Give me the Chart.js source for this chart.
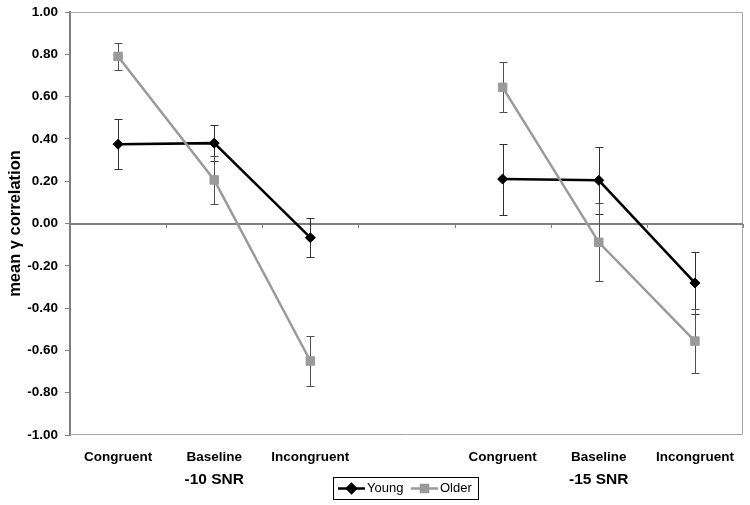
<!DOCTYPE html>
<html>
<head>
<meta charset="utf-8">
<script src="https://cdn.jsdelivr.net/npm/chart.js@4"></script>
<style>
  html, body { margin: 0; padding: 0; background: #fff; }
  #wrap { width: 750px; height: 505px; }
</style>
</head>
<body>
<div id="wrap"><canvas id="chart" width="750" height="505"></canvas></div>
<script>
  // values
  const categories = ['Congruent', 'Baseline', 'Incongruent', '', 'Congruent', 'Baseline', 'Incongruent'];
  const youngMean = [0.375, 0.38, -0.067, null, 0.21, 0.204, -0.281];
  const youngErr  = [0.117, 0.085, 0.092, null, 0.168, 0.158, 0.147];
  const olderMean = [0.79, 0.206, -0.65, null, 0.644, -0.089, -0.556];
  const olderErr  = [0.063, 0.112, 0.118, null, 0.118, 0.185, 0.15];
  const groupLabels = ['-10 SNR', '-15 SNR'];
  const groupAt = [1, 5]; // category index under which the group label sits

  const FONT = 'Liberation Sans, Arial, sans-serif';
  const BLACK = '#000000';
  const GREY = '#9a9a9a';

  // error bars, frame, zero line, group labels, legend
  const extras = {
    id: 'extras',
    beforeDatasetsDraw(chart) {
      const {ctx, chartArea: a, scales: {x, y}} = chart;
      ctx.save();
      // plot frame
      ctx.strokeStyle = '#a6a6a6';
      ctx.lineWidth = 1;
      ctx.beginPath();
      ctx.moveTo(a.left, a.top + 0.5);
      ctx.lineTo(a.right - 0.5, a.top + 0.5);
      ctx.lineTo(a.right - 0.5, a.bottom - 0.5);
      ctx.lineTo(a.left, a.bottom - 0.5);
      ctx.stroke();
      // zero line with category ticks
      const y0 = Math.round(y.getPixelForValue(0));
      ctx.strokeStyle = '#808080';
      ctx.lineWidth = 2;
      ctx.beginPath();
      ctx.moveTo(a.left, y0);
      ctx.lineTo(a.right, y0);
      ctx.stroke();
      ctx.lineWidth = 1;
      const half = (x.getPixelForValue(1) - x.getPixelForValue(0)) / 2;
      ctx.beginPath();
      for (let i = 0; i <= categories.length; i++) {
        const px = Math.round(x.getPixelForValue(0) - half + i * half * 2) + 0.5;
        ctx.moveTo(px, y0);
        ctx.lineTo(px, y0 + 4);
      }
      ctx.stroke();
      // error bars
      const series = [[youngMean, youngErr, '#303030'], [olderMean, olderErr, '#505050']];
      series.forEach(([m, e, col]) => {
        ctx.strokeStyle = col;
        ctx.lineWidth = 1;
        m.forEach((v, i) => {
          if (v === null) return;
          const px = Math.round(x.getPixelForValue(i)) + 0.5;
          const top = Math.round(y.getPixelForValue(v + e[i])) + 0.5;
          const bot = Math.round(y.getPixelForValue(v - e[i])) + 0.5;
          ctx.beginPath();
          ctx.moveTo(px, top); ctx.lineTo(px, bot);
          ctx.moveTo(px - 4, top); ctx.lineTo(px + 4, top);
          ctx.moveTo(px - 4, bot); ctx.lineTo(px + 4, bot);
          ctx.stroke();
        });
      });
      ctx.restore();
    },
    afterDraw(chart) {
      const {ctx, scales: {x}} = chart;
      ctx.save();
      ctx.fillStyle = '#000';
      ctx.font = 'bold 15.5px ' + FONT;
      ctx.textAlign = 'center';
      ctx.textBaseline = 'middle';
      groupLabels.forEach((t, i) => ctx.fillText(t, x.getPixelForValue(groupAt[i]), 480));

      // legend
      const lx = 333, ly = 477, lw = 145, lh = 22;
      ctx.strokeStyle = '#000';
      ctx.lineWidth = 1;
      ctx.strokeRect(lx + 0.5, ly + 0.5, lw, lh);
      const cy = ly + lh / 2 + 0.5;
      const items = [['Young', BLACK, 'rectRot', lx + 5], ['Older', GREY, 'rect', lx + 78]];
      ctx.font = '13px ' + FONT;
      ctx.textAlign = 'left';
      items.forEach(([label, col, shape, sx]) => {
        ctx.strokeStyle = col;
        ctx.fillStyle = col;
        ctx.lineWidth = 2.5;
        ctx.beginPath();
        ctx.moveTo(sx, cy); ctx.lineTo(sx + 27, cy);
        ctx.stroke();
        Chart.helpers.drawPoint(ctx, {pointStyle: shape, radius: shape === 'rect' ? 5 : 4.5, borderWidth: 1}, sx + 13.5, cy);
        ctx.fill();
        ctx.fillStyle = '#000';
        ctx.fillText(label, sx + 29, cy);
      });
      ctx.restore();
    }
  };

  new Chart(document.getElementById('chart'), {
    type: 'line',
    data: {
      labels: categories,
      datasets: [{
        label: 'Young',
        data: youngMean,
        borderColor: BLACK,
        backgroundColor: BLACK,
        borderWidth: 2.5,
        pointStyle: 'rectRot',
        pointRadius: 5,
        pointBorderWidth: 1,
        spanGaps: false,
        order: 1
      }, {
        label: 'Older',
        data: olderMean,
        borderColor: GREY,
        backgroundColor: GREY,
        borderWidth: 2.5,
        pointStyle: 'rect',
        pointRadius: 6,
        pointBorderWidth: 1,
        spanGaps: false,
        order: 0
      }]
    },
    options: {
      responsive: false,
      animation: false,
      layout: { padding: { top: 12, right: 7, left: 0, bottom: 0 } },
      plugins: { legend: { display: false }, tooltip: { enabled: false } },
      scales: {
        x: {
          offset: true,
          grid: { display: false, drawTicks: false },
          border: { display: false },
          ticks: {
            color: '#000',
            font: { family: FONT, size: 13.5, weight: 'bold' },
            padding: 14,
            maxRotation: 0,
            autoSkip: false
          },
          afterFit(scale) { scale.height = 70; scale.paddingLeft = 0; scale.paddingRight = 0; }
        },
        y: {
          min: -1,
          max: 1,
          ticks: {
            stepSize: 0.2,
            color: '#000',
            font: { family: FONT, size: 13.5, weight: 'bold' },
            padding: 7,
            callback: v => v.toFixed(2)
          },
          grid: { drawOnChartArea: false, tickLength: 5, color: '#808080' },
          border: { display: true, color: '#808080', width: 2 },
          title: {
            display: true,
            text: 'mean γ correlation',
            color: '#000',
            font: { family: FONT, size: 16.5, weight: 'bold' },
            padding: { top: 6, bottom: 0 }
          },
          afterFit(scale) { scale.width = 70; scale.paddingTop = 0; scale.paddingBottom = 0; }
        }
      }
    },
    plugins: [extras]
  });
</script>
</body>
</html>
